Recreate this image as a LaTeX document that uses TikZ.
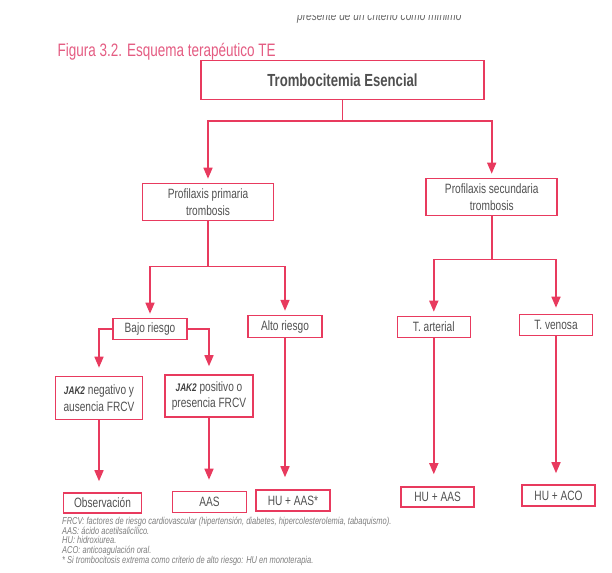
\documentclass[tikz,border=0pt]{standalone}
\usepackage{fontspec}
\setmainfont{Liberation Sans}[FakeStretch=0.75]
\usetikzlibrary{arrows.meta}
\definecolor{rosa}{RGB}{232,58,94}
\definecolor{rosatit}{RGB}{228,92,130}
\definecolor{gristxt}{RGB}{80,80,80}
\definecolor{grisnota}{RGB}{125,125,125}

\tikzset{
  caja/.style={draw=rosa, line width=1.6pt, text=gristxt, align=center, inner sep=1pt,
    font=\fontsize{13.5}{16.5}\selectfont},
  linea/.style={draw=rosa, line width=1.6pt},
  flecha/.style={linea, -{Triangle[width=9pt,length=11pt]}, shorten >=4pt},
  nota/.style={text=grisnota, align=left, inner sep=0pt,
    font=\itshape\fontsize{10}{9.7}\selectfont}
}
\newcommand{\jak}{{\fontsize{11}{12}\selectfont\bfseries\itshape\color{black!75}JAK2}}

\begin{document}
\begin{tikzpicture}[x=1pt,y=1pt]
  \useasboundingbox (0,0) rectangle (612,-572);
  % resto de la pagina anterior
  \begin{scope}
    \clip (0,-15.5) rectangle (612,-30);
    \node[anchor=base east, text=black!60, font=\itshape\fontsize{13.5}{14}\selectfont] (corte) at (465,-21) {presente de un criterio como mínimo};
  \end{scope}
  \node[anchor=base west, text=rosatit, font=\fontsize{18}{20}\selectfont] (titulo) at (54,-57) {Figura 3.2. Esquema terapéutico TE};

  % cajas
  \node[caja, minimum width=283, minimum height=39, font=\bfseries\fontsize{17.5}{20}\selectfont] (te) at (342.5,-80) {Trombocitemia Esencial};
  \node[caja, minimum width=131, minimum height=37] (pp) at (208,-202) {Profilaxis primaria\\trombosis};
  \node[caja, minimum width=131, minimum height=37] (ps) at (491.7,-197) {Profilaxis secundaria\\trombosis};
  \node[caja, minimum width=74, minimum height=21] (bajo) at (150,-329) {Bajo riesgo};
  \node[caja, minimum width=74, minimum height=22] (alto) at (285,-326.6) {Alto riesgo};
  \node[caja, minimum width=73, minimum height=21] (tart) at (433.8,-327) {T. arterial};
  \node[caja, minimum width=73, minimum height=21] (tven) at (556,-325) {T. venosa};
  \node[caja, minimum width=87, minimum height=43] (jneg) at (99,-398) {\jak{} negativo y\\ausencia FRCV};
  \node[caja, minimum width=88, minimum height=42] (jpos) at (209,-396) {\jak{} positivo o\\presencia FRCV};
  \node[caja, minimum width=78, minimum height=20] (obs) at (102.5,-503) {Observación};
  \node[caja, minimum width=74, minimum height=21] (aas) at (209.6,-502) {AAS};
  \node[caja, minimum width=74, minimum height=21] (huaas1) at (293,-500.5) {HU + AAS*};
  \node[caja, minimum width=73, minimum height=20] (huaas2) at (437.6,-497) {HU + AAS};
  \node[caja, minimum width=73, minimum height=21] (huaco) at (558.5,-495.5) {HU + ACO};

  % conectores
  \draw[flecha] (te.south) -- ++(0,-21) -| (pp.north);
  \draw[flecha] (te.south) -- ++(0,-21) -| (ps.north);
  \draw[flecha] (pp.south) -- ++(0,-45) -| (bajo.north);
  \draw[flecha] (pp.south) -- ++(0,-45) -| (alto.north);
  \draw[flecha] (ps.south) -- ++(0,-43) -| (tart.north);
  \draw[flecha, shorten >=6pt] (ps.south) -- ++(0,-43) -| (tven.north);
  \draw[flecha, shorten >=8pt] (bajo.west) -| (jneg.north);
  \draw[flecha, shorten >=8pt] (bajo.east) -| (jpos.north);
  \draw[flecha, shorten >=11pt] (jneg.south) -- (jneg.south |- obs.north);
  \draw[flecha, shorten >=11pt] (jpos.south) -- (jpos.south |- aas.north);
  \draw[flecha, shorten >=12pt] (alto.south) -- (alto.south |- huaas1.north);
  \draw[flecha, shorten >=12pt] (tart.south) -- (tart.south |- huaas2.north);
  \draw[flecha, shorten >=11pt] (tven.south) -- (tven.south |- huaco.north);

  % nota al pie
  \node[nota, anchor=north west] (nota) at (62,-517) {FRCV: factores de riesgo cardiovascular (hipertensión, diabetes, hipercolesterolemia, tabaquismo).\\
    AAS: ácido acetilsalicílico.\\
    HU: hidroxiurea.\\
    ACO: anticoagulación oral.\\
    * Si trombocitosis extrema como criterio de alto riesgo: HU en monoterapia.};
\end{tikzpicture}
\end{document}
